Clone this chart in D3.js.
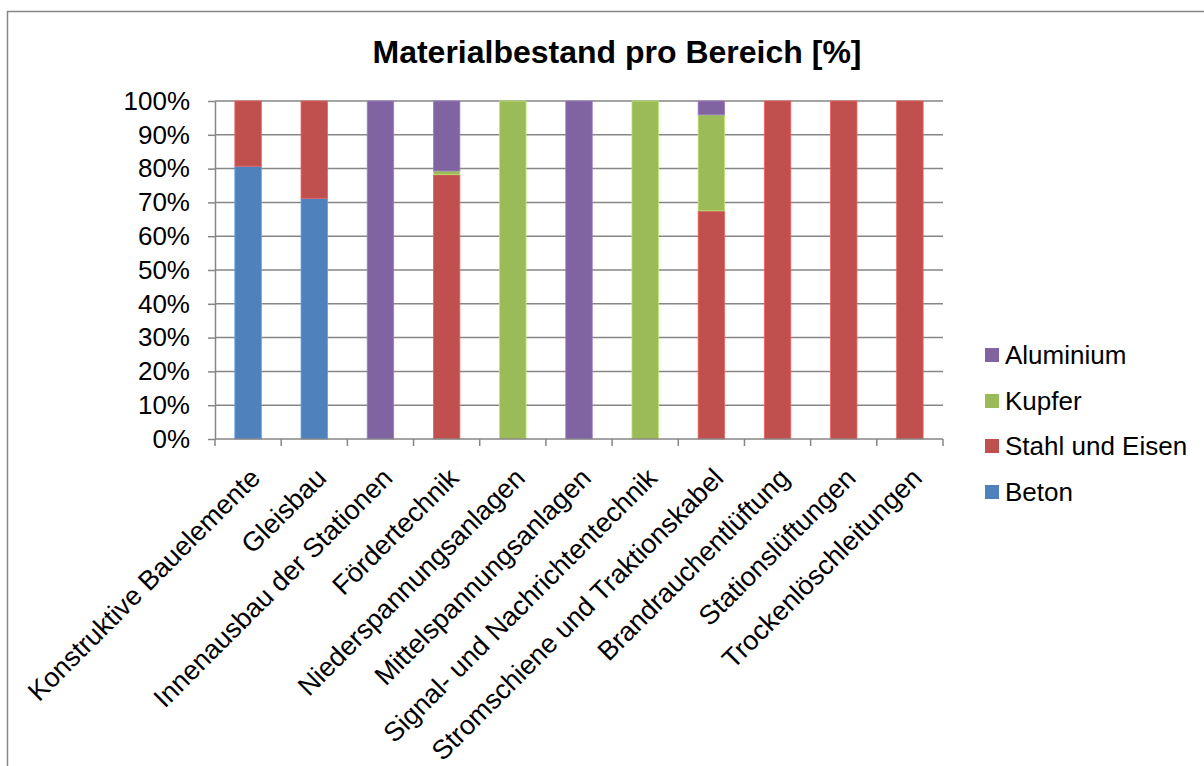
<!DOCTYPE html>
<html>
<head>
<meta charset="utf-8">
<script src="https://cdn.jsdelivr.net/npm/d3@7"></script>
<style>
  body { margin: 0; background: #fff; }
  text { font-family: "Liberation Sans", Arial, sans-serif; fill: #000; }
</style>
</head>
<body>
<svg id="chart" width="1204" height="766"></svg>
<script>
// Data (percent of each area)
const categories = [
  'Konstruktive Bauelemente', 'Gleisbau', 'Innenausbau der Stationen',
  'Fördertechnik', 'Niederspannungsanlagen', 'Mittelspannungsanlagen',
  'Signal- und Nachrichtentechnik', 'Stromschiene und Traktionskabel',
  'Brandrauchentlüftung', 'Stationslüftungen', 'Trockenlöschleitungen'
];
const beton     = [80.7, 71.2, 0, 0,    0,   0,   0,   0,    0,   0,   0];
const stahl     = [19.3, 28.8, 0, 78.2, 0,   0,   0,   67.5, 100, 100, 100];
const kupfer    = [0,    0,    0, 1.1,  100, 0,   100, 28.4, 0,   0,   0];
const aluminium = [0,    0,    100, 20.7, 0, 100, 0,   4.1,  0,   0,   0];

const seriesNames = ['Beton', 'Stahl und Eisen', 'Kupfer', 'Aluminium'];
const seriesColors = ['#4F81BD', '#C0504D', '#9BBB59', '#8064A2'];
const yTicks = [0, 10, 20, 30, 40, 50, 60, 70, 80, 90, 100];

const rows = categories.map((c, i) => ({
  cat: c,
  'Beton': beton[i],
  'Stahl und Eisen': stahl[i],
  'Kupfer': kupfer[i],
  'Aluminium': aluminium[i]
}));

const svg = d3.select('#chart');
const plotLeft = 215, plotRight = 943, plotTop = 101, plotBottom = 439;
const fontFam = '"Liberation Sans", Arial, sans-serif';

// chart frame (only left/top edges visible in the reference)
svg.append('rect')
  .attr('x', 7.5).attr('y', 11.5)
  .attr('width', 1300).attr('height', 900)
  .attr('fill', 'none').attr('stroke', '#868686').attr('stroke-width', 1.5);

svg.append('text')
  .attr('x', 617).attr('y', 63)
  .attr('text-anchor', 'middle')
  .attr('font-size', '32px').attr('font-weight', 'bold')
  .text('Materialbestand pro Bereich [%]');

const x = d3.scaleBand().domain(categories).range([plotLeft, plotRight])
  .paddingInner(0.6).paddingOuter(0.3);
const y = d3.scaleLinear().domain([0, 100]).range([plotBottom, plotTop]);

// gridlines
svg.append('g')
  .selectAll('line')
  .data(yTicks.filter(d => d > 0))
  .enter().append('line')
  .attr('x1', plotLeft).attr('x2', plotRight)
  .attr('y1', d => y(d)).attr('y2', d => y(d))
  .attr('stroke', '#868686').attr('stroke-width', 1.5);

// stacked bars
const stack = d3.stack().keys(seriesNames)(rows);
stack.forEach((layer, si) => {
  svg.append('g')
    .selectAll('rect')
    .data(layer.filter(d => d[1] - d[0] > 0))
    .enter().append('rect')
    .attr('x', d => x(d.data.cat))
    .attr('width', x.bandwidth())
    .attr('y', d => y(d[1]))
    .attr('height', d => y(d[0]) - y(d[1]))
    .attr('fill', seriesColors[si])
    .attr('stroke', d3.color(seriesColors[si]).brighter(0.6))
    .attr('stroke-width', 0.8);
});

// y axis
const yAxis = d3.axisLeft(y)
  .tickValues(yTicks)
  .tickFormat(d => d + '%')
  .tickSizeInner(7).tickSizeOuter(0).tickPadding(18);
const gy = svg.append('g')
  .attr('transform', `translate(${plotLeft},0)`)
  .call(yAxis);
gy.selectAll('path, line').attr('stroke', '#868686').attr('stroke-width', 1.5);
gy.selectAll('text').attr('font-size', '26px').attr('font-family', fontFam);

// x axis with ticks between categories
const step = x.step();
const gx = svg.append('g');
gx.append('line')
  .attr('x1', plotLeft).attr('x2', plotRight)
  .attr('y1', plotBottom).attr('y2', plotBottom)
  .attr('stroke', '#868686').attr('stroke-width', 1.5);
gx.selectAll('.tick')
  .data(d3.range(categories.length + 1))
  .enter().append('line')
  .attr('x1', i => plotLeft + i * step).attr('x2', i => plotLeft + i * step)
  .attr('y1', plotBottom).attr('y2', plotBottom + 7)
  .attr('stroke', '#868686').attr('stroke-width', 1.5);

gx.selectAll('.lbl')
  .data(categories)
  .enter().append('text')
  .attr('transform', d => `translate(${x(d) + x.bandwidth() / 2 + 7},${473}) rotate(-45)`)
  .attr('text-anchor', 'end')
  .attr('dy', '0.35em')
  .attr('font-size', '27px')
  .text(d => d);

// legend (reverse order as in reference)
const legendY = [355, 401, 446, 492];
const legendOrder = ['Aluminium', 'Kupfer', 'Stahl und Eisen', 'Beton'];
const lg = svg.append('g');
legendOrder.forEach((name, i) => {
  const col = seriesColors[seriesNames.indexOf(name)];
  lg.append('rect')
    .attr('x', 985).attr('y', legendY[i] - 7)
    .attr('width', 14).attr('height', 14)
    .attr('fill', col);
  lg.append('text')
    .attr('x', 1005).attr('y', legendY[i])
    .attr('dy', '0.35em')
    .attr('font-size', '26px')
    .text(name);
});
</script>
</body>
</html>
